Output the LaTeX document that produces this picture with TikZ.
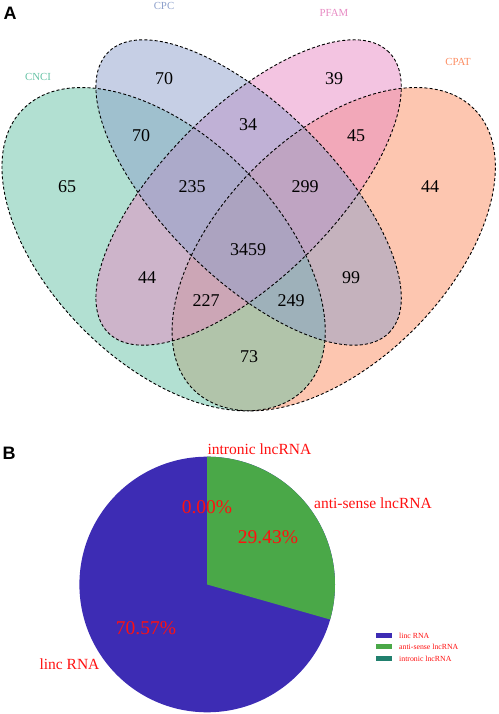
\documentclass[tikz,border=0pt]{standalone}
\usepackage{fontspec}
\setmainfont{Liberation Serif}
\newfontfamily\hvfont{Liberation Sans}
\definecolor{cnci}{HTML}{66C2A5}
\definecolor{cpc}{HTML}{8DA0CB}
\definecolor{pfam}{HTML}{E78AC3}
\definecolor{cpat}{HTML}{FC8D62}
\definecolor{lincblue}{HTML}{3D2CB4}
\definecolor{antigreen}{HTML}{4AA848}
\definecolor{introteal}{HTML}{21806E}
\definecolor{lblred}{HTML}{FF1010}
\tikzset{
  vfill/.style={fill opacity=0.5},
  vline/.style={draw=black, line width=0.9pt, dash pattern=on 3pt off 2.2pt},
  vnum/.style={font=\fontsize{18}{18}\selectfont, inner sep=0pt},
  setlbl/.style={font=\fontsize{10.8}{11}\selectfont, inner sep=0pt},
  panel/.style={font=\hvfont\bfseries\fontsize{18}{18}\selectfont, inner sep=0pt},
  pielbl/.style={text=lblred, font=\fontsize{15.5}{16}\selectfont, inner sep=0pt},
  pct/.style={text=lblred, font=\fontsize{19.5}{20}\selectfont, inner sep=0pt},
  leglbl/.style={text=lblred, font=\fontsize{7.8}{8}\selectfont, inner sep=0pt, anchor=west},
}
\begin{document}
\begin{tikzpicture}[x=1pt,y=1pt]
\useasboundingbox (0,0) rectangle (498,714);
% ---------- Panel A: Venn ----------
\coordinate (cA) at (163.6,464.8);
\coordinate (cB) at (248.6,521.5);
\coordinate (cD) at (333.7,464.8);
\fill[cpat, vfill, rotate around={45:(cD)}] (cD) ellipse [x radius=198.45, y radius=113.4];
\fill[cnci, vfill, rotate around={-45:(cA)}] (cA) ellipse [x radius=198.45, y radius=113.4];
\fill[pfam, vfill, rotate around={45:(cB)}] (cB) ellipse [x radius=198.45, y radius=85.05];
\fill[cpc, vfill, rotate around={-45:(cB)}] (cB) ellipse [x radius=198.45, y radius=85.05];
\draw[vline, rotate around={-45:(cA)}] (cA) ellipse [x radius=198.45, y radius=113.4];
\draw[vline, rotate around={-45:(cB)}] (cB) ellipse [x radius=198.45, y radius=85.05];
\draw[vline, rotate around={45:(cB)}] (cB) ellipse [x radius=198.45, y radius=85.05];
\draw[vline, rotate around={45:(cD)}] (cD) ellipse [x radius=198.45, y radius=113.4];

\node[panel] (pA) at (10,701) {A};
\node[setlbl, text=cnci] (lCNCI) at (38,637) {CNCI};
\node[setlbl, text=cpc] (lCPC) at (164,708) {CPC};
\node[setlbl, text=pfam] (lPFAM) at (334,701) {PFAM};
\node[setlbl, text=cpat] (lCPAT) at (458,652) {CPAT};

\node[vnum] (n1) at (164,635) {70};
\node[vnum] (n2) at (334,635) {39};
\node[vnum] (n3) at (141,578) {70};
\node[vnum] (n4) at (248,589) {34};
\node[vnum] (n5) at (356,578) {45};
\node[vnum] (n6) at (67,527) {65};
\node[vnum] (n7) at (192,527) {235};
\node[vnum] (n8) at (305,527) {299};
\node[vnum] (n9) at (430,527) {44};
\node[vnum] (n10) at (248,464) {3459};
\node[vnum] (n11) at (147,436) {44};
\node[vnum] (n12) at (351,436) {99};
\node[vnum] (n13) at (206,413) {227};
\node[vnum] (n14) at (291,413) {249};
\node[vnum] (n15) at (249,357) {73};

% ---------- Panel B: Pie ----------
\node[panel] (pB) at (9,261) {B};
\coordinate (pc) at (207.2,129.5);
\fill[lincblue] (pc) circle [radius=127.8];
\fill[antigreen] (pc) -- ++(90:127.8) arc [start angle=90, end angle=-15.9, radius=127.8] -- cycle;

\node[pielbl, anchor=west] (tIn) at (207.3,265) {intronic lncRNA};
\node[pielbl, anchor=west] (tAnti) at (314,211) {anti-sense lncRNA};
\node[pielbl] (tLinc) at (69.5,50) {linc RNA};
\node[pct] (p0) at (207,207) {0.00\%};
\node[pct] (p1) at (268,177) {29.43\%};
\node[pct] (p2) at (146,86) {70.57\%};

% legend
\fill[lincblue] (376,75.5) rectangle (392,80.5);
\fill[antigreen] (376,64.5) rectangle (392,69.5);
\fill[introteal] (376,52.5) rectangle (392,57.5);
\node[leglbl] (g1) at (399,78) {linc RNA};
\node[leglbl] (g2) at (399,67) {anti-sense lncRNA};
\node[leglbl] (g3) at (399,55) {intronic lncRNA};
\end{tikzpicture}
\end{document}
